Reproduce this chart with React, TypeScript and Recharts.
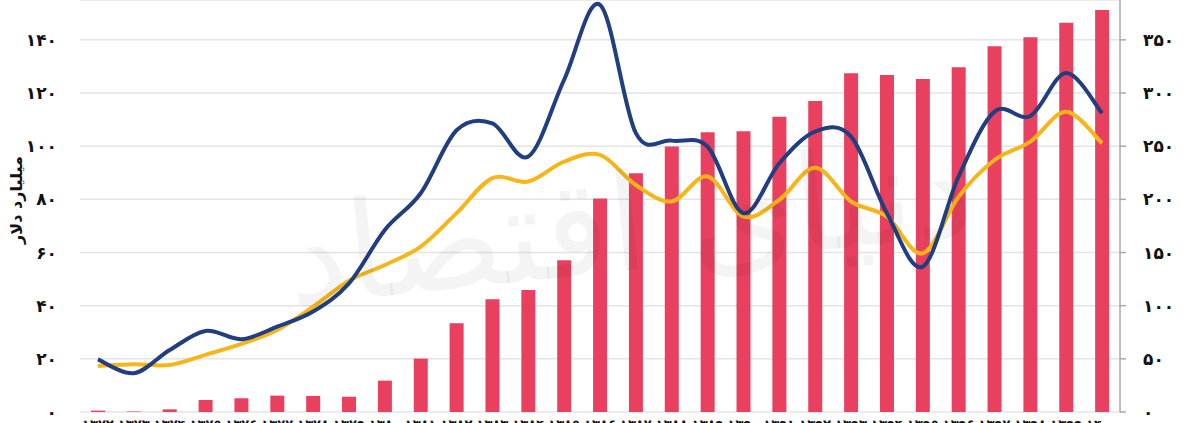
import React from "react";
import {
  ComposedChart,
  Bar,
  Line,
  XAxis,
  YAxis,
  CartesianGrid,
} from "recharts";

// Category labels (years, Persian digits)
const years = [
  "۱۳۷۲", "۱۳۷۳", "۱۳۷۴", "۱۳۷۵", "۱۳۷۶", "۱۳۷۷", "۱۳۷۸", "۱۳۷۹", "۱۳۸۰", "۱۳۸۱",
  "۱۳۸۲", "۱۳۸۳", "۱۳۸۴", "۱۳۸۵", "۱۳۸۶", "۱۳۸۷", "۱۳۸۸", "۱۳۸۹", "۱۳۹۰", "۱۳۹۱",
  "۱۳۹۲", "۱۳۹۳", "۱۳۹۴", "۱۳۹۵", "۱۳۹۶", "۱۳۹۷", "۱۳۹۸", "۱۳۹۹", "۱۴۰۰",
];

// Red bars (right axis)
const barValues = [
  1.3, 0.5, 2.5, 11.3, 12.9, 15.4, 15.1, 14.4, 29.5, 50.2,
  83.4, 106, 114.8, 142.7, 200.7, 224.5, 249.6, 263, 264, 277.8,
  292.6, 318.6, 317, 313.3, 324.3, 344, 352.5, 366, 378,
];

// Blue line (left axis)
const blueValues = [
  19.8, 14.6, 23.3, 30.5, 27.4, 32.1, 37.8, 48.4, 68.5, 82.3,
  106, 108.6, 96.1, 125, 153.2, 104.9, 102.1, 99.8, 74.8, 93.6,
  105.5, 103.6, 74.8, 54.7, 88.6, 113, 111.4, 127.5, 112.4,
];

// Yellow line (left axis)
const yellowValues = [
  17.3, 18.0, 17.7, 21.5, 25.6, 30.9, 39.6, 49.4, 55.3, 62.2,
  74.8, 88.0, 86.7, 94.2, 96.7, 85.4, 79.2, 88.6, 73.5, 79.8,
  91.9, 79.2, 73.5, 59.7, 81.0, 94.8, 101.7, 113, 101.1,
];

const leftTicks = [0, 20, 40, 60, 80, 100, 120, 140];
const rightTicks = [0, 50, 100, 150, 200, 250, 300, 350];
const leftTickLabels = ["۰", "۲۰", "۴۰", "۶۰", "۸۰", "۱۰۰", "۱۲۰", "۱۴۰"];
const rightTickLabels = ["۰", "۵۰", "۱۰۰", "۱۵۰", "۲۰۰", "۲۵۰", "۳۰۰", "۳۵۰"];

const yAxisTitle = "میلیارد دلار";
const watermark = "دنیای اقتصاد";

const data = years.map((y, i) => ({
  year: y,
  bar: barValues[i],
  blue: blueValues[i],
  yellow: yellowValues[i],
}));

// Catmull-Rom style smoothing (similar to spreadsheet smoothed lines)
const smoothCurve: any = (context: any) => {
  let pts: [number, number][] = [];
  return {
    areaStart() {},
    areaEnd() {},
    lineStart() {
      pts = [];
    },
    lineEnd() {
      const n = pts.length;
      if (!n) return;
      context.moveTo(pts[0][0], pts[0][1]);
      for (let i = 0; i < n - 1; i++) {
        const p0 = pts[i - 1] || pts[i];
        const p1 = pts[i];
        const p2 = pts[i + 1];
        const p3 = pts[i + 2] || p2;
        context.bezierCurveTo(
          p1[0] + (p2[0] - p0[0]) / 6,
          p1[1] + (p2[1] - p0[1]) / 6,
          p2[0] - (p3[0] - p1[0]) / 6,
          p2[1] - (p3[1] - p1[1]) / 6,
          p2[0],
          p2[1]
        );
      }
    },
    point(x: number, y: number) {
      pts.push([+x, +y]);
    },
  };
};

const FONT = "'DejaVu Sans', sans-serif";

const LeftTick = (props: any) => {
  const { y, payload } = props;
  const idx = leftTicks.indexOf(payload.value);
  return (
    <text x={57} y={y} dy={6} textAnchor="end" fontFamily={FONT} fontWeight="bold" fontSize={17} fill="#111">
      {leftTickLabels[idx]}
    </text>
  );
};

const RightTick = (props: any) => {
  const { y, payload } = props;
  const idx = rightTicks.indexOf(payload.value);
  return (
    <text x={1143} y={y} dy={6} textAnchor="start" fontFamily={FONT} fontWeight="bold" fontSize={17} fill="#111">
      {rightTickLabels[idx]}
    </text>
  );
};

const XTick = (props: any) => {
  const { x, payload } = props;
  return (
    <text x={x} y={429} textAnchor="middle" fontFamily={FONT} fontWeight="bold" fontSize={13} fill="#111">
      {payload.value}
    </text>
  );
};

export default function App() {
  return (
    <div style={{ position: "relative", width: 1200, height: 440, background: "#fff" }}>
      <style>{`body{margin:0;background:#fff;}`}</style>
      <ComposedChart
        width={1200}
        height={440}
        data={data}
        margin={{ top: 0, right: 0, bottom: 0, left: 0 }}
        barCategoryGap={0}
      >
        <CartesianGrid vertical={false} stroke="#e4e4e4" strokeWidth={1.5} yAxisId="left" />
        <XAxis
          dataKey="year"
          height={28}
          axisLine={false}
          tickLine={false}
          interval={0}
          tick={<XTick />}
        />
        <YAxis
          yAxisId="left"
          orientation="left"
          width={80}
          domain={[0, 155]}
          ticks={leftTicks}
          axisLine={false}
          tickLine={false}
          allowDataOverflow
          tick={<LeftTick />}
          label={{
            value: yAxisTitle,
            angle: -90,
            position: "insideLeft",
            offset: 0,
            dx: 16,
            dy: -6,
            style: { fontFamily: FONT, fontWeight: "bold", fontSize: 16, fill: "#111", textAnchor: "middle" },
          }}
        />
        <YAxis
          yAxisId="right"
          orientation="right"
          width={80}
          domain={[0, 387.5]}
          ticks={rightTicks}
          axisLine={{ stroke: "#a8a8a8", strokeWidth: 1.5 }}
          tickLine={{ stroke: "#a8a8a8", strokeWidth: 1.5 }}
          tickSize={6}
          allowDataOverflow
          tick={<RightTick />}
        />
        <Bar yAxisId="right" dataKey="bar" fill="#E8405E" barSize={14} isAnimationActive={false} />
        <Line
          yAxisId="left"
          dataKey="yellow"
          type={smoothCurve}
          stroke="#F6B519"
          strokeWidth={4}
          dot={false}
          activeDot={false}
          isAnimationActive={false}
        />
        <Line
          yAxisId="left"
          dataKey="blue"
          type={smoothCurve}
          stroke="#203E80"
          strokeWidth={4}
          dot={false}
          activeDot={false}
          isAnimationActive={false}
        />
      </ComposedChart>
      <svg
        width={1200}
        height={440}
        style={{ position: "absolute", left: 0, top: 0, pointerEvents: "none" }}
      >
        <text
          x={630}
          y={270}
          textAnchor="middle"
          fontFamily={FONT}
          fontSize={135}
          fill="#000"
          fillOpacity={0.045}
          transform="rotate(-6 630 230)"
        >
          {watermark}
        </text>
      </svg>
    </div>
  );
}
